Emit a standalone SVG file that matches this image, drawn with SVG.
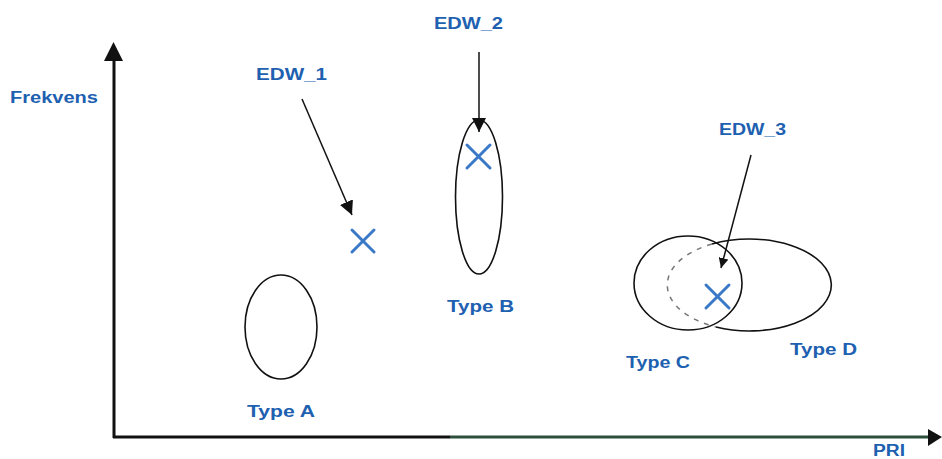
<svg xmlns="http://www.w3.org/2000/svg" width="942" height="459" viewBox="0 0 942 459">
<style>
.lbl{font-family:"Liberation Sans",Arial,sans-serif;font-weight:bold;font-size:16px;fill:#2060b0}
.shape{fill:none;stroke:#111;stroke-width:1.6}
.cross{stroke:#3a78c8;stroke-width:3;stroke-linecap:round}
.conn{stroke:#111;stroke-width:1.5;fill:none}
</style>
<defs>
<marker id="ah" viewBox="0 0 10 10" refX="10" refY="5" markerWidth="10" markerHeight="10" markerUnits="userSpaceOnUse" orient="auto">
<path d="M0,0 L10,5 L0,10 z" fill="#111"/>
</marker>
<marker id="ahs" viewBox="0 0 10 10" refX="10" refY="5" markerWidth="14" markerHeight="14" markerUnits="userSpaceOnUse" orient="auto">
<path d="M0,0 L10,5 L0,10 z" fill="#111"/>
</marker>
</defs>
<rect width="942" height="459" fill="#fff"/>
<g id="axes">
<line x1="114" y1="438" x2="114" y2="58" stroke="#111" stroke-width="3"/>
<path d="M104,61 L113.5,42 L123,61 z" fill="#111"/>
<line x1="113" y1="437" x2="450" y2="437" stroke="#111" stroke-width="3"/>
<line x1="450" y1="437" x2="930" y2="437" stroke="#2c4f3c" stroke-width="3"/>
<path d="M928,429 L942,437 L928,446 z" fill="#111"/>
<text class="lbl" x="10" y="103" textLength="88" lengthAdjust="spacingAndGlyphs">Frekvens</text>
<text class="lbl" x="873" y="456" font-size="15" textLength="32" lengthAdjust="spacingAndGlyphs">PRI</text>
</g>
<g id="typeA">
<ellipse class="shape" cx="281" cy="327" rx="36" ry="52"/>
<text class="lbl" x="247" y="417" textLength="68" lengthAdjust="spacingAndGlyphs">Type A</text>
</g>
<g id="typeB">
<ellipse class="shape" cx="479" cy="197" rx="23.5" ry="77"/>
<text class="lbl" x="447" y="312" textLength="67" lengthAdjust="spacingAndGlyphs">Type B</text>
</g>
<g id="typeC">
<ellipse class="shape" cx="688" cy="283" rx="54" ry="47"/>
<text class="lbl" x="626" y="368" textLength="64" lengthAdjust="spacingAndGlyphs">Type C</text>
</g>
<g id="typeD">
<path class="shape" d="M712,244 A82,46 0 1 1 716,327"/>
<path d="M712,244 A82,46 0 0 0 716,327" fill="none" stroke="#777" stroke-width="1.5" stroke-dasharray="5,6"/>
<text class="lbl" x="790" y="355" textLength="67" lengthAdjust="spacingAndGlyphs">Type D</text>
</g>
<g id="edw1">
<text class="lbl" x="256" y="80" textLength="71" lengthAdjust="spacingAndGlyphs">EDW_1</text>
<line class="cross" x1="352" y1="230" x2="374" y2="252"/>
<line class="cross" x1="374" y1="230" x2="352" y2="252"/>
</g>
<g id="edw2">
<text class="lbl" x="434" y="29" textLength="69" lengthAdjust="spacingAndGlyphs">EDW_2</text>
<line class="cross" x1="467" y1="145" x2="490" y2="168"/>
<line class="cross" x1="490" y1="145" x2="467" y2="168"/>
</g>
<g id="edw3">
<text class="lbl" x="719" y="135" textLength="67" lengthAdjust="spacingAndGlyphs">EDW_3</text>
<line class="cross" x1="706" y1="285" x2="729" y2="308"/>
<line class="cross" x1="729" y1="285" x2="706" y2="308"/>
</g>
<g id="connectors">
<line class="conn" x1="302" y1="99" x2="352" y2="215" marker-end="url(#ahs)"/>
<line class="conn" x1="479" y1="52" x2="479" y2="132" marker-end="url(#ahs)"/>
<line class="conn" x1="751" y1="155" x2="721" y2="268" marker-end="url(#ah)"/>
</g>
</svg>
